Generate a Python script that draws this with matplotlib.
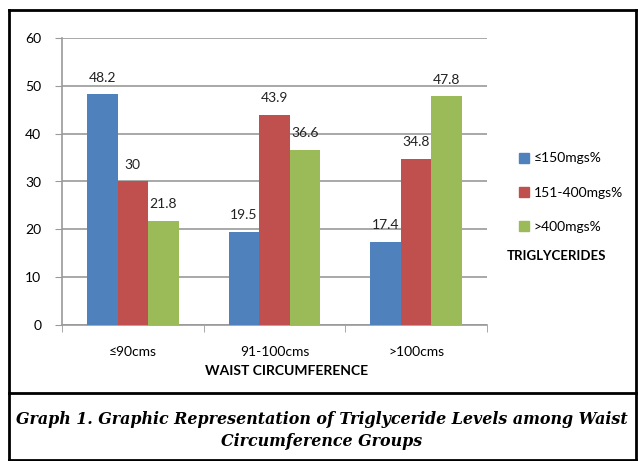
import matplotlib.pyplot as plt
import numpy as np
from matplotlib.lines import Line2D

plt.rcParams['font.family'] = ['Lato', 'DejaVu Sans']

groups = ['≤90cms', '91-100cms', '>100cms']
series = ['≤150mgs%', '151-400mgs%', '>400mgs%']
low = [48.2, 19.5, 17.4]
mid = [30, 43.9, 34.8]
high = [21.8, 36.6, 47.8]
yticks = [0, 10, 20, 30, 40, 50, 60]
colors = ['#4F81BD', '#C0504D', '#9BBB59']

W, H = 638, 461
fig = plt.figure(figsize=(W / 100, H / 100), dpi=100)
ax = fig.add_axes([62 / W, 1 - 325 / H, (487 - 62) / W, (325 - 38) / H])

x = np.arange(len(groups))
bw = 0.215
for i, (vals, c) in enumerate(zip([low, mid, high], colors)):
    pos = x + (i - 1) * bw
    ax.bar(pos, vals, bw, color=c, zorder=3)
    for p, v in zip(pos, vals):
        ax.text(p, v + 2.2, f'{v:g}', ha='center', va='bottom', fontsize=10, color='#222222')

ax.set_xlim(-0.5, 2.5)
ax.set_ylim(0, 60)
ax.set_yticks(yticks)
ax.yaxis.grid(True, color='#9a9a9a', linewidth=1.2, zorder=0)
ax.set_xticks(x)
ax.set_xticklabels(groups, fontsize=10)
ax.set_xticks([-0.5, 0.5, 1.5, 2.5], minor=True)
ax.tick_params(axis='x', which='major', length=0, pad=15)
ax.tick_params(axis='x', which='minor', length=5, color='#9a9a9a')
ax.tick_params(axis='y', length=5, color='#9a9a9a', labelsize=10, pad=10)
for s in ['top', 'right']:
    ax.spines[s].set_visible(False)
for s in ['left', 'bottom']:
    ax.spines[s].set_color('#9a9a9a')
    ax.spines[s].set_linewidth(1.2)

fig.text(287 / W, 1 - 371 / H, 'WAIST CIRCUMFERENCE', ha='center', va='center',
         fontsize=10, fontweight='bold')

handles = [Line2D([], [], marker='s', linestyle='', markersize=7, color=c) for c in colors]
fig.legend(handles, series, loc='upper left', bbox_to_anchor=(503 / W, 1 - 140 / H),
           frameon=False, fontsize=10, labelspacing=1.6, handletextpad=0.1,
           handlelength=1.2)
fig.text(507 / W, 1 - 256 / H, 'TRIGLYCERIDES', ha='left', va='center',
         fontsize=9.5, fontweight='bold')

# outer frame and caption
lw = 2
frame = [([9, 9], [1, 451]), ([636, 636], [1, 451]), ([9, 636], [451, 451]),
         ([9, 636], [1, 1]), ([9, 636], [68, 68])]
for xs, ys in frame:
    fig.add_artist(Line2D([v / W for v in xs], [v / H for v in ys],
                          transform=fig.transFigure, color='black', lw=lw))

cap = dict(ha='center', va='center', fontsize=11.4, fontweight='bold', fontstyle='italic',
           family='DejaVu Serif')
fig.text(322 / W, 1 - 419 / H, 'Graph 1. Graphic Representation of Triglyceride Levels among Waist', **cap)
fig.text(322 / W, 1 - 441 / H, 'Circumference Groups', **cap)

fig.savefig('out.png', dpi=100)
